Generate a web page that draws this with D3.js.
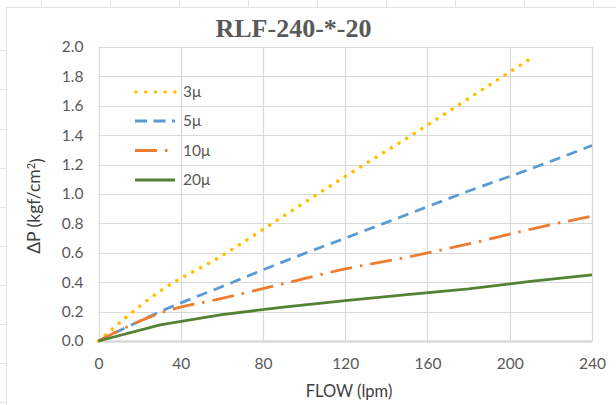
<!DOCTYPE html>
<html>
<head>
<meta charset="utf-8">
<script src="https://cdn.jsdelivr.net/npm/d3@7"></script>
<style>
  html, body { margin: 0; padding: 0; background: #fff; }
  svg { display: block; }
</style>
</head>
<body>
<svg id="chart" width="616" height="405"></svg>
<script>
// Pressure drop vs. flow for each filter rating
const flow = [0, 30, 60, 90, 120, 150, 180, 210, 240];
const dp3 = [0, 0.34, 0.58, 0.85, 1.12, 1.38, 1.65, 1.92];
const dp5 = [0, 0.20, 0.37, 0.54, 0.70, 0.86, 1.02, 1.17, 1.33];
const dp10 = [0, 0.19, 0.29, 0.39, 0.49, 0.57, 0.66, 0.76, 0.85];
const dp20 = [0, 0.11, 0.18, 0.23, 0.275, 0.315, 0.355, 0.405, 0.45];
const seriesNames = ["3μ", "5μ", "10μ", "20μ"];
const xTicks = [0, 40, 80, 120, 160, 200, 240];
const yTicks = [0, 0.2, 0.4, 0.6, 0.8, 1.0, 1.2, 1.4, 1.6, 1.8, 2.0];

const styles = [
  { color: "#ffc000", width: 3.6, dash: "0.01 9", cap: "round" },
  { color: "#5b9bd5", width: 2.8, dash: "11 7", cap: "butt" },
  { color: "#ed7d31", width: 2.8, dash: "22 8 2.5 8", cap: "butt" },
  { color: "#548235", width: 2.8, dash: null, cap: "butt" }
];
const values = [dp3, dp5, dp10, dp20];

const svg = d3.select("#chart");
const font = "Lato, 'Open Sans', sans-serif";

// Worksheet frame around the chart object
const frame = svg.append("g").attr("stroke", "#e3e3e3").attr("stroke-width", 1);
frame.append("line").attr("x1", 6.5).attr("x2", 616).attr("y1", 7.5).attr("y2", 7.5);
frame.append("line").attr("x1", 6.5).attr("x2", 6.5).attr("y1", 7.5).attr("y2", 405);
[41.5, 110.5, 179.5, 248.5, 317.5, 386.5, 455.5, 524.5, 593.5].forEach(x =>
  frame.append("line").attr("x1", x).attr("x2", x).attr("y1", 0).attr("y2", 7));
[50.5, 89.5, 129.5, 168.5, 207.5, 246.5, 285.5, 324.5, 363.5, 402.5].forEach(y =>
  frame.append("line").attr("x1", 0).attr("x2", 6).attr("y1", y).attr("y2", y));

const x = d3.scaleLinear().domain([0, 240]).range([98.5, 592]);
const y = d3.scaleLinear().domain([0, 2]).range([341, 47]);

// Gridlines
const grid = svg.append("g").attr("stroke", "#d9d9d9").attr("stroke-width", 1.2);
grid.selectAll("line.h").data(yTicks.filter(d => d > 0)).join("line")
  .attr("x1", x(0)).attr("x2", x(240))
  .attr("y1", d => Math.round(y(d)) + 0.5).attr("y2", d => Math.round(y(d)) + 0.5);
grid.selectAll("line.v").data(xTicks).join("line")
  .attr("x1", d => Math.round(x(d)) + 0.5).attr("x2", d => Math.round(x(d)) + 0.5)
  .attr("y1", y(2)).attr("y2", y(0));

// X axis
const xAxis = svg.append("g").attr("transform", `translate(0,${y(0)})`)
  .call(d3.axisBottom(x).tickValues(xTicks).tickFormat(d3.format("d")).tickSize(0).tickPadding(17));
xAxis.select(".domain").attr("stroke", "#d9d9d9").attr("stroke-width", 2.6);
xAxis.selectAll("text").attr("fill", "#595959").style("font", `15.5px ${font}`);

// Y axis
const yAxis = svg.append("g").attr("transform", `translate(${x(0)},0)`)
  .call(d3.axisLeft(y).tickValues(yTicks).tickFormat(d3.format(".1f")).tickSize(0).tickPadding(15));
yAxis.select(".domain").remove();
yAxis.selectAll("text").attr("fill", "#595959").style("font", `15.5px ${font}`);

// Series
const line = d3.line().x(d => x(d[0])).y(d => y(d[1]));
values.forEach((vals, i) => {
  const pts = vals.map((v, j) => [flow[j], v]);
  const st = styles[i];
  svg.append("path")
    .datum(pts)
    .attr("d", line.curve(i === 3 ? d3.curveLinear : d3.curveMonotoneX))
    .attr("fill", "none")
    .attr("stroke", st.color)
    .attr("stroke-width", st.width)
    .attr("stroke-linecap", st.cap)
    .attr("stroke-linejoin", "round")
    .attr("stroke-dasharray", st.dash);
});

// Legend
const legend = svg.append("g");
const legendY = [92, 121, 150.5, 180];
seriesNames.forEach((name, i) => {
  const st = styles[i];
  const dash = i === 0 ? "0.01 9.7" : (i === 1 ? "12 6.5" : st.dash);
  legend.append("line")
    .attr("x1", i === 0 ? 136 : 135).attr("x2", i === 0 ? 176 : 175)
    .attr("y1", legendY[i]).attr("y2", legendY[i])
    .attr("stroke", st.color).attr("stroke-width", st.width)
    .attr("stroke-linecap", st.cap).attr("stroke-dasharray", dash);
  legend.append("text")
    .attr("x", 183).attr("y", legendY[i]).attr("dy", "0.35em")
    .attr("fill", "#595959").style("font", `15.5px ${font}`)
    .text(name);
});

// Title
svg.append("text")
  .attr("x", 293.5).attr("y", 37)
  .attr("text-anchor", "middle")
  .attr("fill", "#595959")
  .style("font", "bold 26px 'Liberation Serif', 'Times New Roman', serif")
  .text("RLF-240-*-20");

// Axis titles
svg.append("text")
  .attr("x", 349).attr("y", 397)
  .attr("text-anchor", "middle")
  .attr("fill", "#404040")
  .style("font", `16.5px ${font}`)
  .text("FLOW (lpm)");

const yTitle = svg.append("text")
  .attr("transform", "translate(40,206) rotate(-90)")
  .attr("text-anchor", "middle")
  .attr("fill", "#404040")
  .style("font", `17.5px ${font}`);
yTitle.append("tspan").text("ΔP (kgf/cm");
yTitle.append("tspan").attr("dy", "-0.45em").style("font-size", "11px").text("2");
yTitle.append("tspan").attr("dy", "0.45em").text(")");
</script>
</body>
</html>
